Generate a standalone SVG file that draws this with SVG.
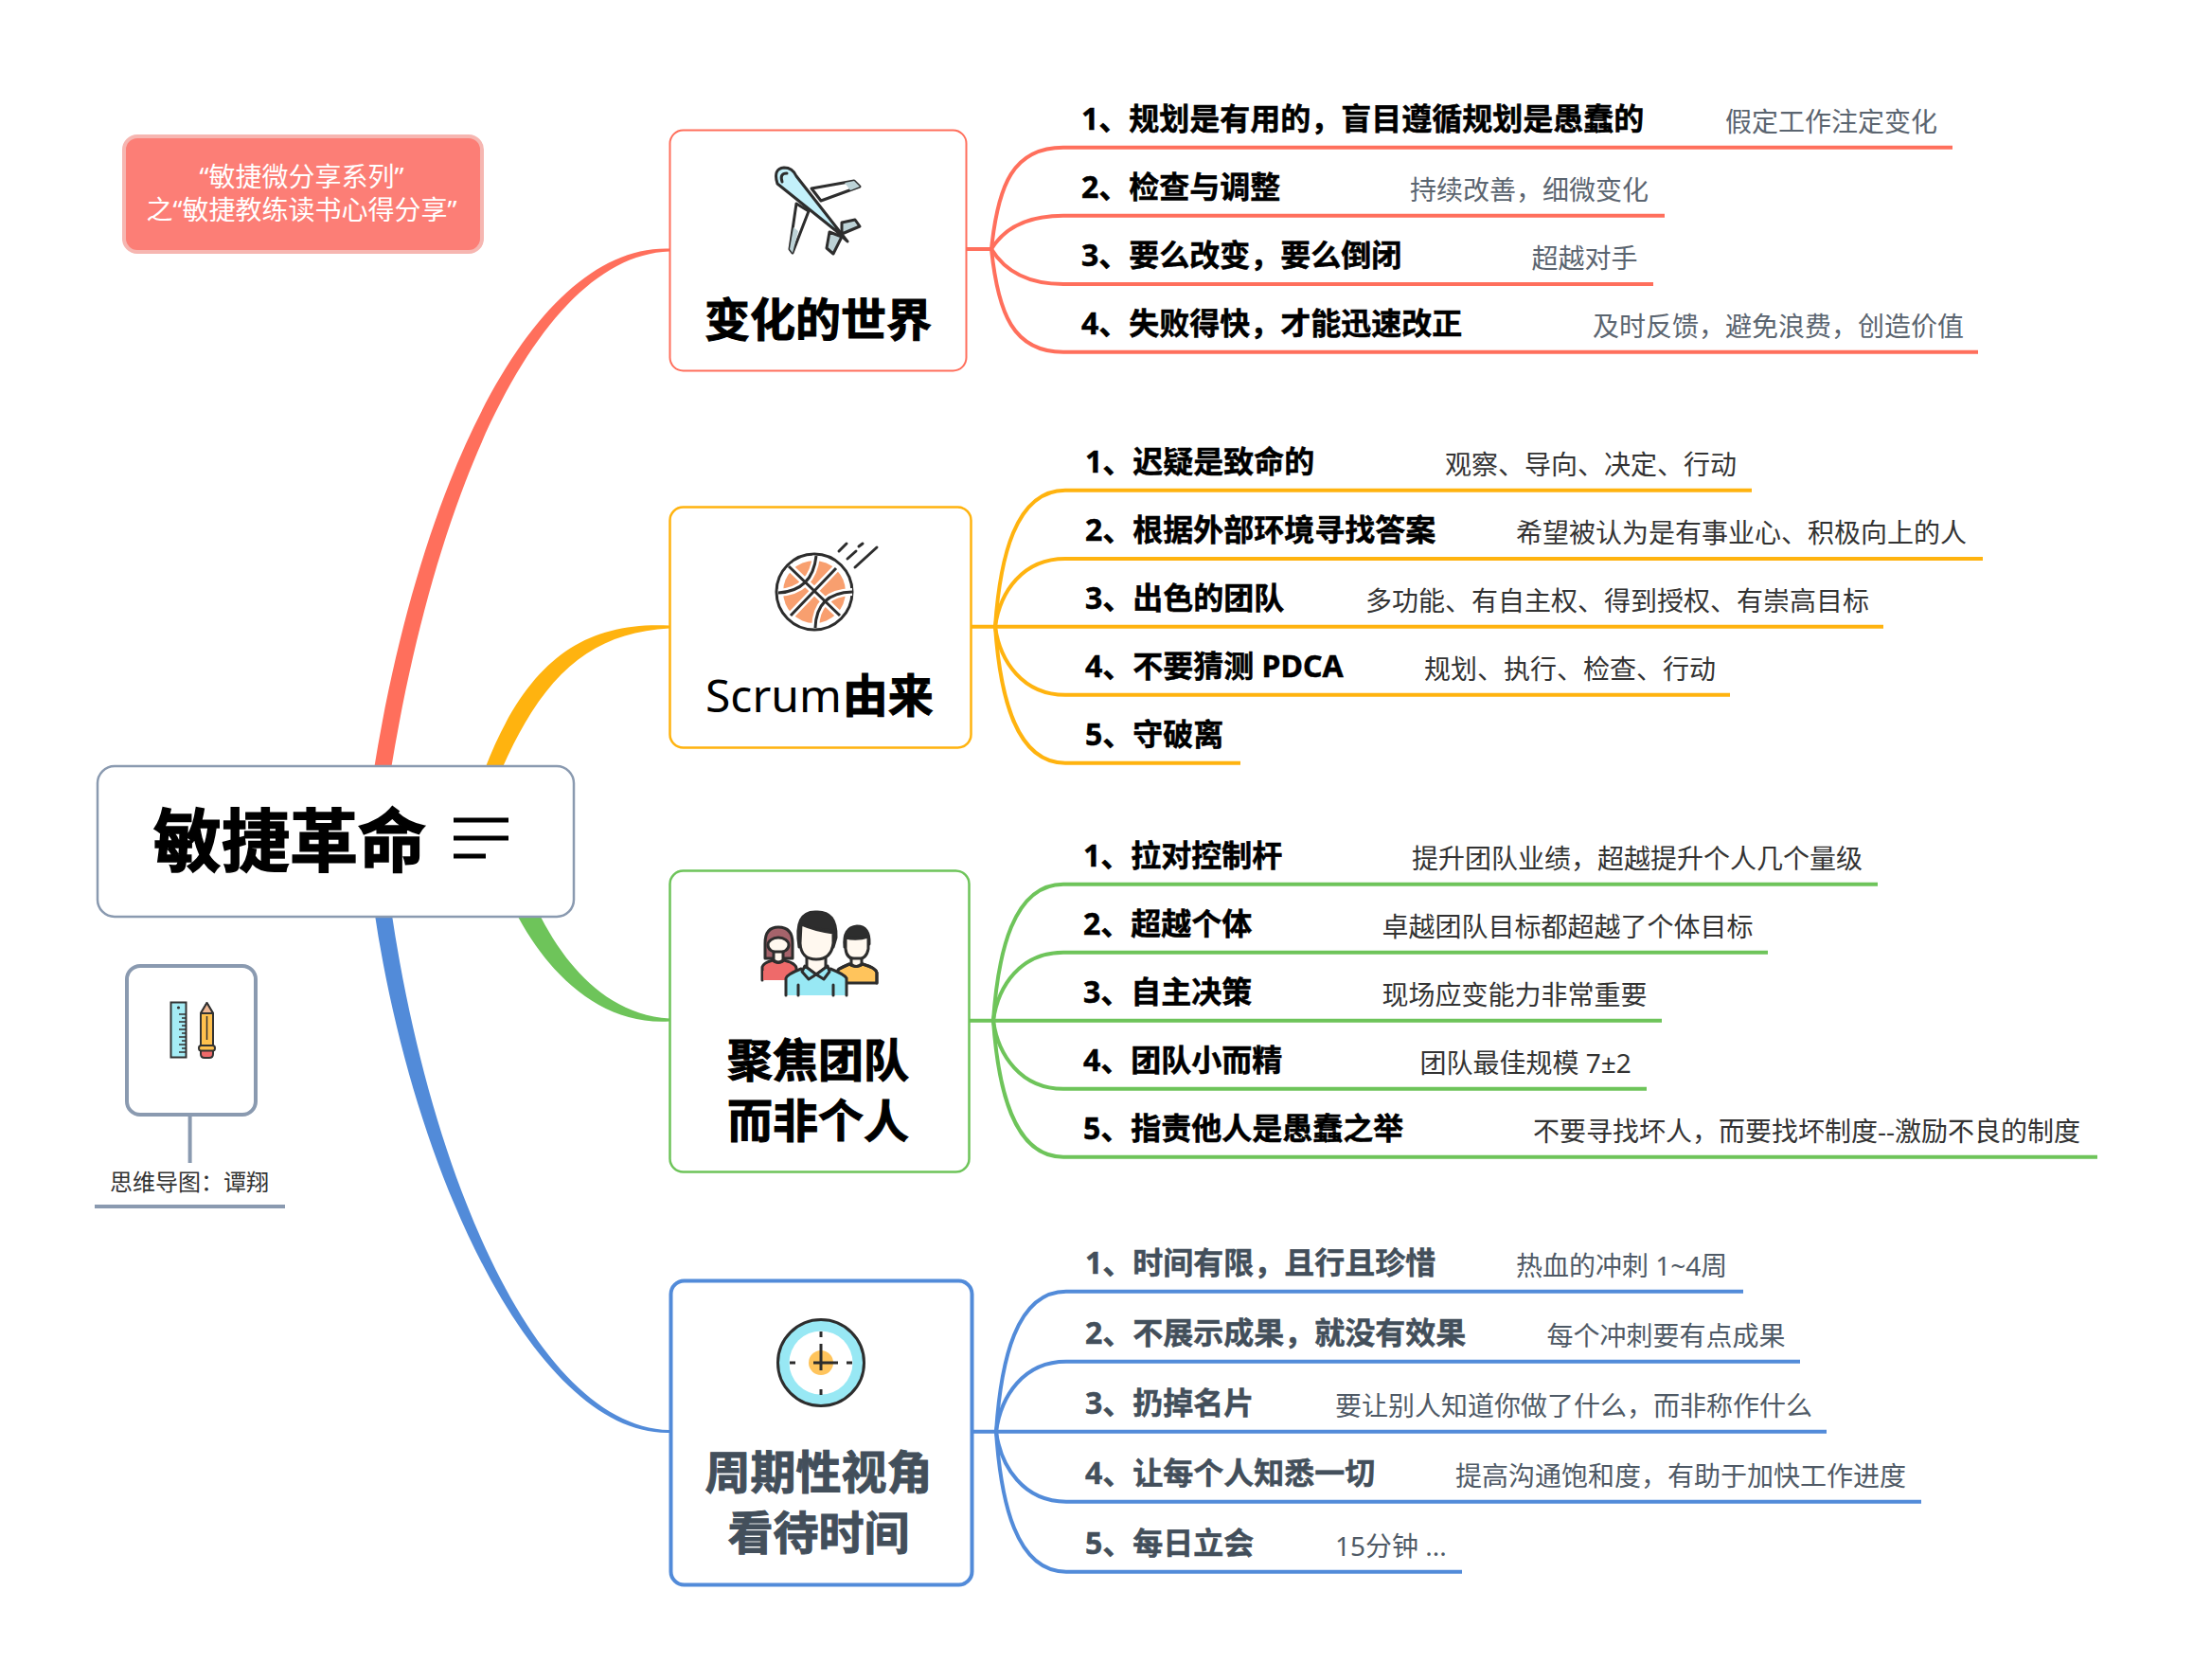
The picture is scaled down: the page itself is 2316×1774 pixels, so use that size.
<svg xmlns="http://www.w3.org/2000/svg" width="2316" height="1774" viewBox="0 0 2316 1774">
<style>
text{font-family:"Noto Sans","Noto Sans CJK SC",sans-serif}
.l{font-size:32px;font-weight:700;fill:#000;stroke:#000;stroke-width:.5}
.s{font-size:28px;fill:#333}
.t{font-size:48px;font-weight:700;fill:#000;stroke:#000;stroke-width:1;text-anchor:middle}
.red .s{fill:#5b6570}
.blue .s{fill:#4f5a66}
.blue .l,.blue .t{fill:#434f5b;stroke:#434f5b}
.box{fill:#fff}
.ln{fill:none;stroke-width:4}
.ic{stroke:#2d2d2d;stroke-width:3;stroke-linejoin:round;stroke-linecap:round}
.no{fill:none}
</style>
<rect width="2316" height="1774" fill="#fff"/>
<g id="connectors">
<path d="M413,812 C464,502 574,270 707,265.5 L707,262.5 C566,258 446,498 395,812Z" fill="#ff6f5c"/>
<path d="M530,812 C574,712 624,668 707,663.5 L707,660.5 C616,656 556,698 512,812Z" fill="#ffb30f"/>
<path d="M568,962 C594,1015 638,1071 707,1075.5 L707,1078.5 C632,1083 576,1025 544,962Z" fill="#6ec45a"/>
<path d="M413,960 C454,1240 566,1506 707,1510 L707,1513 C566,1516 436,1240 395,960Z" fill="#528bd9"/>
<g class="ln" stroke="#ff6f5c">
<path d="M1021,263H1047"/>
<path d="M1047,263C1054,195 1070,155.7 1123,155.7H2062"/>
<path d="M1047,263C1058,245 1080,227.7 1123,227.7H1758"/>
<path d="M1047,263C1058,281 1080,300 1123,300H1746"/>
<path d="M1047,263C1054,331 1070,371.7 1123,371.7H2089"/>
</g>
<g class="ln" stroke="#ffb30f">
<path d="M1025,661.7H1989"/>
<path d="M1051,661.7C1056,590 1072,517.7 1125,517.7H1850"/>
<path d="M1051,661.7C1056,625 1080,590 1125,590H2094"/>
<path d="M1051,661.7C1056,698 1080,733.7 1125,733.7H1827"/>
<path d="M1051,661.7C1056,733 1072,805.7 1125,805.7H1310"/>
</g>
<g class="ln" stroke="#6ec45a">
<path d="M1023,1077.7H1755"/>
<path d="M1049,1077.7C1054,1006 1070,933.7 1123,933.7H1983"/>
<path d="M1049,1077.7C1054,1041 1078,1005.7 1123,1005.7H1867"/>
<path d="M1049,1077.7C1054,1114 1078,1149.7 1123,1149.7H1739"/>
<path d="M1049,1077.7C1054,1149 1070,1221.7 1123,1221.7H2215"/>
</g>
<g class="ln" stroke="#528bd9">
<path d="M1027,1511.7H1929"/>
<path d="M1052,1511.7C1057,1437 1073,1363.7 1126,1363.7H1841"/>
<path d="M1052,1511.7C1057,1474 1081,1437.7 1126,1437.7H1901"/>
<path d="M1052,1511.7C1057,1549 1081,1585.7 1126,1585.7H2029"/>
<path d="M1052,1511.7C1057,1586 1073,1659.7 1126,1659.7H1544"/>
</g>
<path d="M200.6,1177V1228" stroke="#8a9ab0" stroke-width="4" fill="none"/>
<path d="M100,1274H301" stroke="#8a9ab0" stroke-width="4" fill="none"/>
</g>
<g id="note">
<rect x="131" y="144" width="378" height="122" rx="14" fill="#fc7e76" stroke="#f6b6b1" stroke-width="4"/>
<text x="318.5" y="197" font-size="28" fill="#fff" text-anchor="middle">“敏捷微分享系列”</text>
<text x="318.5" y="232" font-size="28" fill="#fff" text-anchor="middle">之“敏捷教练读书心得分享”</text>
</g>
<g id="center">
<rect class="box" x="103" y="809" width="503" height="159" rx="18" stroke="#8a9ab0" stroke-width="2.5"/>
<text x="162" y="914" font-size="72" font-weight="700" fill="#000" stroke="#000" stroke-width="1.5">敏捷革命</text>
<path d="M479,866H537M479,885H537M479,904H513" stroke="#000" stroke-width="5" fill="none"/>
</g>
<g id="author">
<rect class="box" x="134" y="1020" width="136" height="157" rx="14" stroke="#8a9ab0" stroke-width="4"/>
<rect x="180.5" y="1058.5" width="16" height="58" fill="#a5ecf5" stroke="#333" stroke-width="2"/>
<circle cx="188.5" cy="1064" r="1.6" fill="#333"/>
<path d="M196,1071h-7M196,1075h-4M196,1079h-7M196,1083h-4M196,1087h-7M196,1091h-4M196,1095h-7M196,1099h-4M196,1103h-7M196,1107h-4M196,1111h-7" stroke="#333" stroke-width="1.5" fill="none"/>
<path d="M212,1070L218.5,1059L225,1070V1104H212Z" fill="#ffc04d" stroke="#333" stroke-width="2" stroke-linejoin="round"/>
<path d="M212,1070L218.5,1059L225,1070Z" fill="#efb894" stroke="#333" stroke-width="2" stroke-linejoin="round"/>
<path d="M218.5,1073V1098" stroke="#333" stroke-width="1.5"/>
<path d="M212,1109H225V1113Q225,1117 221,1117H216Q212,1117 212,1113Z" fill="#ee6a6a" stroke="#333" stroke-width="2"/>
<rect x="210" y="1104" width="17" height="5.5" rx="2.5" fill="#ffc04d" stroke="#333" stroke-width="2"/>
<text x="116" y="1257" font-size="24" fill="#333">思维导图：谭翔</text>
</g>
<g id="topic1" class="red">
<rect class="box" x="707.5" y="137.5" width="313" height="254" rx="14" stroke="#ff6f5c" stroke-width="2"/>
<path class="ic" fill="#fff" d="M857,199L902,191L908,197L867,212Z"/>
<path d="M892,193L902,191L908,197L898,201Z" fill="#bcd2d6"/>
<path class="ic" fill="#fff" d="M841,215L834,263L837,267L854,223Z"/>
<path d="M838,240L834,263L837,267L843,244Z" fill="#bcd2d6"/>
<path class="ic" fill="#bcd2d6" d="M889,235L903,232L908,239L889,247Z"/>
<path class="ic" fill="#bcd2d6" d="M876,245L873,262L880,268L889,250Z"/>
<path class="ic" fill="#c3f0fa" d="M821,194Q816,178 828,177Q837,177 841,186L895,255L882,243Z"/>
<path class="ic no" stroke-width="2" d="M826,192Q823,183 831,183"/>
<text class="t" x="864" y="355">变化的世界</text>
<text class="l" x="1142" y="137">1、规划是有用的，盲目遵循规划是愚蠢的</text><text class="s" x="1822" y="139">假定工作注定变化</text>
<text class="l" x="1142" y="209">2、检查与调整</text><text class="s" x="1489" y="211">持续改善，细微变化</text>
<text class="l" x="1142" y="281">3、要么改变，要么倒闭</text><text class="s" x="1617.5" y="283">超越对手</text>
<text class="l" x="1142" y="353">4、失败得快，才能迅速改正</text><text class="s" x="1682" y="355">及时反馈，避免浪费，创造价值</text>
</g>
<g id="topic2" class="yellow">
<rect class="box" x="707.5" y="535.5" width="318" height="254" rx="14" stroke="#ffb30f" stroke-width="2.5"/>
<circle cx="860" cy="625" r="40" fill="#fff" stroke="#2d2d2d" stroke-width="3"/>
<circle cx="860" cy="625" r="33" fill="#f89f6f"/>
<g fill="none" stroke="#fff" stroke-width="8"><path d="M833,598L887,650M883,600L835,650M862,587Q858,624 822,626M900,625Q862,626 861,663"/></g>
<g fill="none" stroke="#2d2d2d" stroke-width="3"><path d="M833,598L887,650M883,600L835,650M862,587Q858,624 822,626M900,625Q862,626 861,663"/></g>
<path class="ic" d="M886,582L894,574M895,590L904,582M907,577L911,574M903,599L926,578"/>
<text x="745" y="752" font-size="48" fill="#000">Scrum<tspan dx="1" font-weight="700" stroke="#000" stroke-width="1">由来</tspan></text>
<text class="l" x="1146" y="499">1、迟疑是致命的</text><text class="s" x="1526" y="501">观察、导向、决定、行动</text>
<text class="l" x="1146" y="571">2、根据外部环境寻找答案</text><text class="s" x="1601" y="573">希望被认为是有事业心、积极向上的人</text>
<text class="l" x="1146" y="643">3、出色的团队</text><text class="s" x="1442" y="645">多功能、有自主权、得到授权、有崇高目标</text>
<text class="l" x="1146" y="715">4、不要猜测 PDCA</text><text class="s" x="1504" y="717">规划、执行、检查、行动</text>
<text class="l" x="1146" y="787">5、守破离</text>
</g>
<g id="topic3" class="green">
<rect class="box" x="707.5" y="919.5" width="316" height="318" rx="14" stroke="#6ec45a" stroke-width="2.5"/>
<path class="ic" fill="#a5636b" d="M808,1012V996Q808,979 822,979Q837,979 837,996V1012Z"/>
<path class="ic" fill="#ee6a6a" stroke-linecap="butt" d="M805,1035V1021Q806,1017 816,1014Q822,1019 828,1014Q840,1017 841,1022V1035" />
<path d="M806,1035H841V1025H806Z" fill="#ee6a6a"/>
<ellipse class="ic" cx="822" cy="998" rx="11" ry="8" fill="#fff8ef"/>
<path class="ic" fill="#fff8ef" d="M817,1005V1014Q822,1018 827,1014V1005Z" stroke-width="0"/>
<path class="ic" fill="#ffc45c" stroke-linecap="butt" d="M885,1024Q890,1021 897,1018Q904,1023 911,1018Q925,1022 926,1027V1038H885Z" stroke="none"/>
<path class="ic no" stroke-linecap="butt" d="M886,1023Q890,1021 897,1018Q904,1023 911,1018Q925,1022 926,1027V1038"/>
<path class="ic" fill="#2d2d2d" d="M892,1000Q890,979 905,978Q919,978 918,997L915,990H896Z"/>
<path class="ic" fill="#fff8ef" d="M893,990Q905,993 917,989V1002Q915,1013 905,1013Q894,1013 893,1002Z"/>
<path class="ic" fill="#fff8ef" d="M899,1012V1018Q904,1023 910,1018V1012Z"/>
<path d="M830,1051V1033Q831,1029 846,1023L861,1032L877,1023Q892,1029 894,1033V1051Z" fill="#98e8f4"/>
<path class="ic no" stroke-linecap="butt" d="M830,1051V1033Q831,1029 846,1023M877,1023Q892,1029 894,1033V1051M843,1040V1051M880,1040V1051"/>
<path class="ic" fill="#fff8ef" d="M852,1010V1022L862,1029L872,1022V1010Z"/>
<path class="ic" fill="#98e8f4" d="M850,1020L862,1029L854,1034L847,1026ZM874,1020L862,1029L870,1034L876,1026Z"/>
<path class="ic" fill="#2d2d2d" d="M844,1000Q838,962 862,963Q884,962 883,990L880,1000V983Q860,982 846,976Z"/>
<path class="ic" fill="#fff8ef" d="M846,976Q862,983 880,985V996Q878,1013 862,1013Q846,1013 845,996Z"/>
<text class="t" x="864" y="1137">聚焦团队</text>
<text class="t" x="864" y="1201">而非个人</text>
<text class="l" x="1144" y="915">1、拉对控制杆</text><text class="s" x="1491" y="917">提升团队业绩，超越提升个人几个量级</text>
<text class="l" x="1144" y="987">2、超越个体</text><text class="s" x="1459.5" y="989">卓越团队目标都超越了个体目标</text>
<text class="l" x="1144" y="1059">3、自主决策</text><text class="s" x="1459.5" y="1061">现场应变能力非常重要</text>
<text class="l" x="1144" y="1131">4、团队小而精</text><text class="s" x="1499.5" y="1133">团队最佳规模 7±2</text>
<text class="l" x="1144" y="1203">5、指责他人是愚蠢之举</text><text class="s" x="1619" y="1205">不要寻找坏人，而要找坏制度--激励不良的制度</text>
</g>
<g id="topic4" class="blue">
<rect class="box" x="708.5" y="1352.5" width="318" height="321" rx="14" stroke="#528bd9" stroke-width="4"/>
<circle cx="867" cy="1439" r="45.5" fill="#98e8f4" stroke="#2d2d2d" stroke-width="3"/>
<circle cx="867" cy="1439" r="33.5" fill="#fff"/>
<circle cx="867" cy="1439" r="13" fill="#ffc45c"/>
<path stroke="#2d2d2d" stroke-width="3" fill="none" d="M867,1419V1447M859,1439H885M867,1406V1412M867,1467V1473M834,1439H840M894,1439H900"/>
<text class="t" x="864.5" y="1572">周期性视角</text>
<text class="t" x="864.5" y="1636">看待时间</text>
<text class="l" x="1146" y="1345">1、时间有限，且行且珍惜</text><text class="s" x="1601" y="1347">热血的冲刺 1~4周</text>
<text class="l" x="1146" y="1419">2、不展示成果，就没有效果</text><text class="s" x="1633.5" y="1421">每个冲刺要有点成果</text>
<text class="l" x="1146" y="1493">3、扔掉名片</text><text class="s" x="1410" y="1495">要让别人知道你做了什么，而非称作什么</text>
<text class="l" x="1146" y="1567">4、让每个人知悉一切</text><text class="s" x="1537" y="1569">提高沟通饱和度，有助于加快工作进度</text>
<text class="l" x="1146" y="1641">5、每日立会</text><text class="s" x="1410" y="1643">15分钟 ...</text>
</g>
</svg>
